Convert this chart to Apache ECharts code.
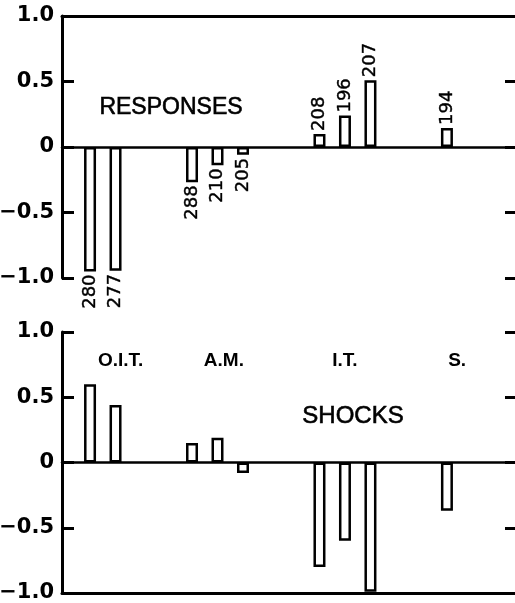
<!DOCTYPE html>
<html><head><meta charset="utf-8">
<script src="https://cdn.jsdelivr.net/npm/echarts@6/dist/echarts.min.js"></script>
<style>html,body{margin:0;padding:0;background:#fff}#c{width:515px;height:603px}</style>
</head><body><div id="c"></div>
<script>
// Data
const groups = ['O.I.T.', 'A.M.', 'I.T.', 'S.'];
const groupLabelSlot = [2.2, 6.25, 11.0, 15.4];
const barSlot = [1, 2, 5, 6, 7, 10, 11, 12, 15];
const responses = [-0.95, -0.945, -0.27, -0.14, -0.06, 0.10, 0.24, 0.51, 0.145];
const responseN = [280, 277, 288, 210, 205, 208, 196, 207, 194];
const shocks = [0.60, 0.44, 0.15, 0.19, -0.08, -0.80, -0.60, -0.99, -0.37];
const yTickLabels = {'-1': '\u22121.0', '-0.5': '\u22120.5', '0': '0', '0.5': '0.5', '1': '1.0'};

const chart = echarts.init(document.getElementById('c'), null, {renderer: 'canvas'});
const BLACK = '#000';
const xMin = -0.1, xMax = 17.67;

function xAxisDef(grid, pos, onZero, w) {
  return {
    gridIndex: grid, type: 'value', min: xMin, max: xMax, position: pos,
    axisLine: {show: true, onZero: onZero, lineStyle: {color: BLACK, width: w}},
    axisTick: {show: false}, axisLabel: {show: false}, splitLine: {show: false}
  };
}
function yAxisDef(grid, pos, withLabels) {
  return {
    gridIndex: grid, type: 'value', min: -1, max: 1, interval: 0.5, position: pos,
    axisLine: {show: withLabels, onZero: false, lineStyle: {color: BLACK, width: 3}},
    axisTick: {show: true, inside: true, length: withLabels ? 12 : 10, lineStyle: {color: BLACK, width: 3}},
    axisLabel: {
      show: withLabels, margin: 8, color: BLACK,
      fontFamily: 'DejaVu Sans', fontWeight: 'bold', fontSize: 21,
      formatter: v => yTickLabels[String(v)]
    },
    splitLine: {show: false}
  };
}

const barStyle = {color: '#fff', borderColor: BLACK, borderWidth: 2.5};

const topData = barSlot.map((s, i) => {
  const neg = responses[i] < 0;
  return {
    value: [s, responses[i]],
    label: {
      show: true, formatter: String(responseN[i]),
      position: neg ? 'bottom' : 'top', distance: 3, rotate: 90,
      align: neg ? 'right' : 'left', verticalAlign: 'middle',
      color: BLACK, fontFamily: 'DejaVu Sans', fontSize: 18,
      textBorderColor: BLACK, textBorderWidth: 0.4
    }
  };
});
const bottomData = barSlot.map((s, i) => ({value: [s, shocks[i]]}));
const groupLabelData = groups.map((g, i) => ({value: [groupLabelSlot[i], 0.78], name: g}));

chart.setOption({
  animation: false,
  backgroundColor: '#fff',
  grid: [
    {left: 62, right: 0, top: 16, height: 262, outerBoundsMode: 'none', containLabel: false},
    {left: 62, right: 0, top: 332, height: 261, outerBoundsMode: 'none', containLabel: false}
  ],
  xAxis: [
    xAxisDef(0, 'bottom', true, 2.5),
    xAxisDef(0, 'top', false, 3),
    xAxisDef(1, 'bottom', true, 2.5),
    xAxisDef(1, 'bottom', false, 3)
  ],
  yAxis: [
    yAxisDef(0, 'left', true),
    yAxisDef(0, 'right', false),
    yAxisDef(1, 'left', true),
    yAxisDef(1, 'right', false)
  ],
  series: [
    {type: 'bar', name: 'RESPONSES', xAxisIndex: 0, yAxisIndex: 0, barWidth: 12,
     itemStyle: barStyle, data: topData},
    {type: 'bar', name: 'SHOCKS', xAxisIndex: 2, yAxisIndex: 2, barWidth: 12,
     itemStyle: barStyle, data: bottomData},
    {type: 'scatter', xAxisIndex: 2, yAxisIndex: 2, symbolSize: 0, data: groupLabelData,
     itemStyle: {opacity: 1},
     label: {show: true, position: 'inside', formatter: p => p.name, color: BLACK, opacity: 1,
             fontFamily: 'Liberation Sans', fontWeight: 'bold', fontSize: 19}}
  ],
  graphic: [
    {type: 'text', x: 171, y: 108, style: {text: 'RESPONSES', fill: BLACK, stroke: BLACK, lineWidth: 0.6,
      font: '23px "Liberation Sans"', textAlign: 'center', textVerticalAlign: 'middle'}},
    {type: 'text', x: 353, y: 416, style: {text: 'SHOCKS', fill: BLACK, stroke: BLACK, lineWidth: 0.6,
      font: '24px "Liberation Sans"', textAlign: 'center', textVerticalAlign: 'middle'}}
  ]
});
</script></body></html>
